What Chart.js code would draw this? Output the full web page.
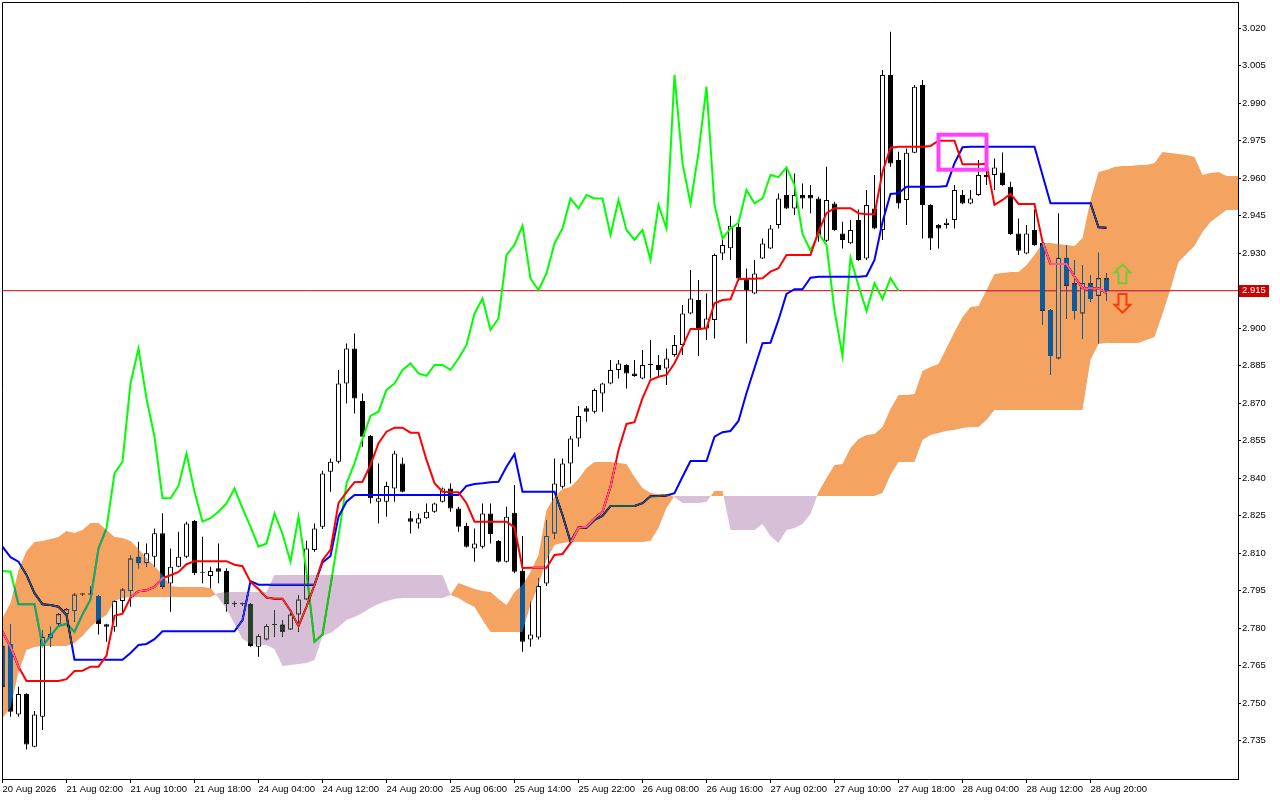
<!DOCTYPE html>
<html>
<head>
<meta charset="utf-8">
<title>Ichimoku H1</title>
<script src="https://cdn.jsdelivr.net/npm/chart.js@4.4.1/dist/chart.umd.min.js"></script>
<style>
  body { margin: 0; background: #ffffff; }
  canvas { display: block; }
</style>
</head>
<body>
<canvas id="grafico" width="1280" height="800"></canvas>
<script>
// velas H1, barra 0 = primera vela visible
const aperturas = [
  2.7730,2.7737,2.7455,2.7537,2.7326,2.7446,2.7760,2.7816,2.7856,2.7869,
  2.7935,2.7935,2.7929,2.7816,2.7806,2.7909,2.7949,2.8086,2.8060,2.8086,
  2.8180,2.7979,2.8046,2.8086,2.8229,2.8022,2.8009,2.8040,2.8029,2.7896,
  2.7896,2.7896,2.7726,2.7755,2.7813,2.7815,2.7795,2.7855,2.7915,2.8113,
  2.8206,2.8426,2.8466,2.8779,2.8919,2.8709,2.8569,2.8306,2.8306,2.8359,
  2.8459,2.8240,2.8219,2.8240,2.8266,2.8306,2.8359,2.8279,2.8209,2.8119,
  2.8126,2.8259,2.8149,2.8066,2.8262,2.8030,2.7755,2.7763,2.7979,2.8179,
  2.8366,2.8459,2.8559,2.8680,2.8666,2.8739,2.8779,2.8833,2.8853,2.8819,
  2.8799,2.8853,2.8853,2.8839,2.8893,2.8933,2.9059,2.9113,2.8999,2.9033,
  2.9299,2.9320,2.9405,2.9196,2.9139,2.9279,2.9319,2.9413,2.9533,2.9479,
  2.9533,2.9533,2.9519,2.9350,2.9499,2.9379,2.9340,2.9433,2.9279,2.9479,
  2.9393,3.0013,2.9673,2.9513,2.9702,2.9973,2.9493,2.9413,2.9413,2.9433,
  2.9533,2.9499,2.9533,2.9613,2.9613,2.9623,2.9566,2.9379,2.9299,2.9393,
  2.9342,2.9073,2.8879,2.9282,2.9180,2.9059,2.9180,2.9130,2.9200
];
const maximos = [
  2.7753,2.7817,2.7566,2.7540,2.7469,2.7793,2.7806,2.7860,2.7880,2.7939,
  2.7940,2.7969,2.7933,2.7818,2.7913,2.7959,2.8093,2.8146,2.8139,2.8199,
  2.8260,2.8119,2.8186,2.8226,2.8233,2.8166,2.8046,2.8139,2.8040,2.7909,
  2.7902,2.7900,2.7775,2.7817,2.7873,2.7833,2.7875,2.7933,2.8150,2.8219,
  2.8430,2.8479,2.8833,2.8939,2.8979,2.8739,2.8573,2.8459,2.8386,2.8510,
  2.8482,2.8269,2.8259,2.8299,2.8302,2.8363,2.8379,2.8286,2.8222,2.8199,
  2.8299,2.8299,2.8153,2.8286,2.8373,2.8169,2.7906,2.7999,2.8233,2.8479,
  2.8479,2.8569,2.8689,2.8689,2.8759,2.8782,2.8873,2.8873,2.8856,2.8873,
  2.8913,2.8953,2.8893,2.8919,2.8973,2.9093,2.9233,2.9193,2.9139,2.9299,
  2.9360,2.9450,2.9433,2.9239,2.9273,2.9359,2.9413,2.9539,2.9646,2.9619,
  2.9579,2.9573,2.9526,2.9646,2.9506,2.9426,2.9433,2.9475,2.9553,2.9613,
  3.0033,3.0186,2.9706,2.9719,2.9973,2.9993,2.9496,2.9417,2.9439,2.9573,
  2.9553,2.9553,2.9673,2.9639,2.9679,2.9703,2.9586,2.9439,2.9413,2.9475,
  2.9346,2.9076,2.9460,2.9333,2.9273,2.9253,2.9213,2.9302,2.9220
];
const minimos = [
  2.7539,2.7446,2.7446,2.7315,2.7324,2.7393,2.7726,2.7813,2.7853,2.7826,
  2.7930,2.7932,2.7775,2.7746,2.7786,2.7859,2.7886,2.8040,2.8046,2.8046,
  2.7959,2.7866,2.8044,2.8080,2.8013,2.7980,2.7960,2.7980,2.7866,2.7886,
  2.7890,2.7726,2.7686,2.7752,2.7766,2.7766,2.7793,2.7786,2.7913,2.8106,
  2.8197,2.8346,2.8459,2.8699,2.8659,2.8526,2.8299,2.8219,2.8246,2.8306,
  2.8344,2.8179,2.8199,2.8238,2.8262,2.8303,2.8266,2.8186,2.8123,2.8066,
  2.8119,2.8139,2.8063,2.8063,2.8020,2.7706,2.7726,2.7755,2.7969,2.8159,
  2.8359,2.8379,2.8526,2.8626,2.8659,2.8666,2.8776,2.8799,2.8759,2.8806,
  2.8796,2.8799,2.8806,2.8773,2.8886,2.8893,2.9056,2.8889,2.8953,2.8959,
  2.9273,2.9273,2.9190,2.8939,2.9136,2.9277,2.9317,2.9399,2.9477,2.9453,
  2.9479,2.9460,2.9346,2.9346,2.9390,2.9319,2.9337,2.9270,2.9273,2.9396,
  2.9353,2.9646,2.9479,2.9413,2.9700,2.9359,2.9313,2.9319,2.9399,2.9399,
  2.9496,2.9496,2.9530,2.9573,2.9553,2.9570,2.9373,2.9293,2.9296,2.9330,
  2.9013,2.8813,2.8876,2.9039,2.9036,2.8957,2.9106,2.8940,2.9109
];
const cierres = [
  2.7566,2.7466,2.7537,2.7335,2.7455,2.7766,2.7776,2.7856,2.7876,2.7935,
  2.7935,2.7935,2.7816,2.7806,2.7909,2.7955,2.8079,2.8060,2.8100,2.8180,
  2.7966,2.8046,2.8086,2.8219,2.8020,2.8022,2.8029,2.8026,2.7896,2.7896,
  2.7896,2.7729,2.7769,2.7809,2.7817,2.7786,2.7855,2.7915,2.8119,2.8199,
  2.8419,2.8466,2.8779,2.8919,2.8719,2.8566,2.8320,2.8320,2.8369,2.8499,
  2.8346,2.8226,2.8240,2.8266,2.8299,2.8359,2.8279,2.8206,2.8126,2.8139,
  2.8259,2.8177,2.8066,2.8246,2.8026,2.7746,2.7775,2.7969,2.8169,2.8379,
  2.8459,2.8559,2.8649,2.8666,2.8753,2.8779,2.8833,2.8859,2.8819,2.8809,
  2.8853,2.8853,2.8833,2.8879,2.8933,2.9059,2.9119,2.8993,2.9039,2.9293,
  2.9333,2.9410,2.9199,2.9153,2.9219,2.9339,2.9399,2.9519,2.9479,2.9533,
  2.9519,2.9519,2.9373,2.9513,2.9393,2.9353,2.9393,2.9273,2.9493,2.9399,
  3.0013,2.9659,2.9499,2.9702,2.9966,2.9493,2.9359,2.9399,2.9422,2.9553,
  2.9499,2.9519,2.9613,2.9604,2.9643,2.9573,2.9377,2.9310,2.9379,2.9333,
  2.9070,2.8889,2.9282,2.9170,2.9069,2.9180,2.9117,2.9200,2.9150
];

// lineas del Ichimoku
const tenkan = [
  2.7786,2.7726,2.7646,2.7589,2.7589,2.7589,2.7589,2.7589,2.7596,2.7629,
  2.7630,2.7646,2.7646,2.7690,2.7850,2.7858,2.7922,2.7948,2.7952,2.7965,
  2.8000,2.8012,2.8025,2.8056,2.8068,2.8068,2.8068,2.8068,2.8068,2.8054,
  2.8048,2.7985,2.7957,2.7923,2.7918,2.7918,2.7870,2.7808,2.7886,2.7973,
  2.8072,2.8113,2.8300,2.8344,2.8384,2.8386,2.8453,2.8540,2.8586,2.8602,
  2.8602,2.8582,2.8582,2.8473,2.8380,2.8346,2.8344,2.8344,2.8300,2.8226,
  2.8226,2.8226,2.8226,2.8226,2.8203,2.8041,2.8042,2.8042,2.8042,2.8093,
  2.8097,2.8140,2.8202,2.8206,2.8240,2.8266,2.8366,2.8513,2.8617,2.8624,
  2.8720,2.8793,2.8806,2.8813,2.8860,2.8926,2.8997,2.8997,2.9000,2.9100,
  2.9113,2.9116,2.9196,2.9198,2.9198,2.9200,2.9226,2.9240,2.9293,2.9293,
  2.9293,2.9293,2.9386,2.9460,2.9480,2.9480,2.9480,2.9460,2.9456,2.9456,
  2.9625,2.9722,2.9726,2.9726,2.9726,2.9726,2.9729,2.9750,2.9750,2.9750,
  2.9656,2.9656,2.9656,2.9658,2.9493,2.9513,2.9537,2.9497,2.9497,2.9497,
  2.9346,2.9257,2.9257,2.9257,2.9206,2.9160,2.9160,2.9160,2.9140
];
const kijun = [
  2.8126,2.8084,2.8066,2.8013,2.7940,2.7896,2.7893,2.7886,2.7853,2.7674,
  2.7674,2.7674,2.7674,2.7674,2.7674,2.7674,2.7701,2.7733,2.7737,2.7756,
  2.7788,2.7788,2.7788,2.7788,2.7788,2.7788,2.7788,2.7788,2.7788,2.7788,
  2.7832,2.7988,2.7974,2.7974,2.7974,2.7974,2.7974,2.7974,2.7974,2.7974,
  2.8063,2.8089,2.8246,2.8306,2.8333,2.8333,2.8333,2.8333,2.8333,2.8333,
  2.8333,2.8333,2.8333,2.8333,2.8333,2.8333,2.8333,2.8333,2.8369,2.8377,
  2.8380,2.8384,2.8386,2.8446,2.8496,2.8346,2.8346,2.8346,2.8346,2.8346,
  2.8253,2.8146,2.8202,2.8202,2.8233,2.8249,2.8289,2.8289,2.8289,2.8289,
  2.8300,2.8328,2.8329,2.8331,2.8340,2.8406,2.8469,2.8469,2.8469,2.8566,
  2.8584,2.8589,2.8629,2.8741,2.8841,2.8940,2.8942,2.9033,2.9137,2.9156,
  2.9156,2.9202,2.9206,2.9206,2.9206,2.9206,2.9206,2.9206,2.9209,2.9273,
  2.9425,2.9537,2.9540,2.9566,2.9566,2.9566,2.9566,2.9566,2.9569,2.9660,
  2.9724,2.9726,2.9726,2.9726,2.9726,2.9726,2.9726,2.9726,2.9726,2.9726,
  2.9613,2.9500,2.9500,2.9500,2.9500,2.9500,2.9500,2.9404,2.9402
];
// chikou: barras 0..112
const chikou = [
  2.8029,2.8026,2.7896,2.7896,2.7896,2.7729,2.7769,2.7809,2.7817,2.7786,
  2.7855,2.7915,2.8119,2.8199,2.8419,2.8466,2.8779,2.8919,2.8719,2.8566,
  2.8320,2.8320,2.8369,2.8499,2.8346,2.8226,2.8240,2.8266,2.8299,2.8359,
  2.8279,2.8206,2.8126,2.8139,2.8259,2.8177,2.8066,2.8246,2.8026,2.7746,
  2.7775,2.7969,2.8169,2.8379,2.8459,2.8559,2.8649,2.8666,2.8753,2.8779,
  2.8833,2.8859,2.8819,2.8809,2.8853,2.8853,2.8833,2.8879,2.8933,2.9059,
  2.9119,2.8993,2.9039,2.9293,2.9333,2.9410,2.9199,2.9153,2.9219,2.9339,
  2.9399,2.9519,2.9479,2.9533,2.9519,2.9519,2.9373,2.9513,2.9393,2.9353,
  2.9393,2.9273,2.9493,2.9399,3.0013,2.9659,2.9499,2.9702,2.9966,2.9493,
  2.9359,2.9399,2.9422,2.9553,2.9499,2.9519,2.9613,2.9604,2.9643,2.9573,
  2.9377,2.9310,2.9379,2.9333,2.9070,2.8889,2.9282,2.9170,2.9069,2.9180,
  2.9117,2.9200,2.9150
];
// nube: barras 0..155 (ya desplazada 26 barras)
const senkouA = [
  2.7841,2.7901,2.8033,2.8109,2.8145,2.8149,2.8157,2.8165,2.8189,2.8181,
  2.8193,2.8221,2.8221,2.8193,2.8165,2.8161,2.8149,2.8117,2.8081,2.8049,
  2.8013,2.7969,2.7965,2.7965,2.7965,2.7965,2.7961,2.7921,2.7877,2.7817,
  2.7757,2.7737,2.7733,2.7733,2.7717,2.7649,2.7653,2.7657,2.7661,2.7673,
  2.7769,2.7781,2.7805,2.7833,2.7845,2.7861,2.7881,2.7897,2.7909,2.7917,
  2.7921,2.7921,2.7921,2.7921,2.7921,2.7921,2.7933,2.7981,2.7969,2.7957,
  2.7949,2.7945,2.7917,2.7893,2.7945,2.7973,2.8025,2.8093,2.8273,2.8325,
  2.8357,2.8365,2.8397,2.8441,2.8465,2.8465,2.8465,2.8461,2.8457,2.8405,
  2.8361,2.8341,2.8337,2.8337,2.8325,2.8301,2.8301,2.8301,2.8305,2.8349,
  2.8349,2.8193,2.8193,2.8193,2.8193,2.8217,2.8169,2.8141,2.8193,2.8201,
  2.8217,2.8257,2.8345,2.8401,2.8453,2.8457,2.8521,2.8557,2.8573,2.8577,
  2.8605,2.8677,2.8733,2.8733,2.8737,2.8829,2.8845,2.8857,2.8921,2.8985,
  2.9045,2.9085,2.9089,2.9153,2.9217,2.9221,2.9225,2.9225,2.9253,2.9293,
  2.9341,2.9341,2.9337,2.9333,2.9329,2.9361,2.9513,2.9625,2.9633,2.9645,
  2.9649,2.9649,2.9653,2.9653,2.9661,2.9705,2.9701,2.9697,2.9693,2.9685,
  2.9613,2.9621,2.9625,2.9609,2.9609,2.9609
];
const senkouB = [
  2.7441,2.7481,2.7625,2.7713,2.7725,2.7729,2.7729,2.7729,2.7729,2.7741,
  2.7769,2.7805,2.7833,2.7853,2.7909,2.7921,2.7925,2.7925,2.7925,2.7925,
  2.7925,2.7925,2.7925,2.7925,2.7925,2.7925,2.7925,2.7941,2.7945,2.7945,
  2.7945,2.7945,2.7945,2.7945,2.8013,2.8013,2.8013,2.8013,2.8013,2.8013,
  2.8013,2.8013,2.8013,2.8013,2.8013,2.8013,2.8013,2.8013,2.8013,2.8013,
  2.8013,2.8013,2.8013,2.8013,2.8013,2.8013,2.7933,2.7921,2.7901,2.7885,
  2.7833,2.7785,2.7785,2.7785,2.7785,2.7785,2.7893,2.7973,2.8073,2.8133,
  2.8141,2.8145,2.8145,2.8145,2.8145,2.8145,2.8145,2.8145,2.8145,2.8145,
  2.8145,2.8149,2.8201,2.8281,2.8329,2.8329,2.8329,2.8329,2.8329,2.8329,
  2.8329,2.8329,2.8329,2.8329,2.8329,2.8329,2.8329,2.8329,2.8329,2.8329,
  2.8329,2.8329,2.8329,2.8329,2.8329,2.8329,2.8329,2.8329,2.8329,2.8329,
  2.8341,2.8413,2.8465,2.8465,2.8465,2.8553,2.8573,2.8581,2.8589,2.8593,
  2.8601,2.8605,2.8605,2.8633,2.8673,2.8673,2.8673,2.8673,2.8673,2.8673,
  2.8673,2.8673,2.8673,2.8673,2.8673,2.8673,2.8873,2.8937,2.8941,2.8941,
  2.8941,2.8941,2.8941,2.8953,2.8965,2.9057,2.9157,2.9265,2.9297,2.9329,
  2.9385,2.9425,2.9449,2.9473,2.9473,2.9473
];

// ejes
const barrasEtiqueta = [0, 8, 16, 24, 32, 40, 48, 56, 64, 72, 80, 88, 96, 104, 112, 120, 128, 136];
const etiquetasTiempo = [
  "20 Aug 2026", "21 Aug 02:00", "21 Aug 10:00", "21 Aug 18:00", "24 Aug 04:00", "24 Aug 12:00",
  "24 Aug 20:00", "25 Aug 06:00", "25 Aug 14:00", "25 Aug 22:00", "26 Aug 08:00", "26 Aug 16:00",
  "27 Aug 02:00", "27 Aug 10:00", "27 Aug 18:00", "28 Aug 04:00", "28 Aug 12:00", "28 Aug 20:00"
];
const preciosEje = [2.735, 2.750, 2.765, 2.780, 2.795, 2.810, 2.825, 2.840, 2.855, 2.870,
  2.885, 2.900, 2.915, 2.930, 2.945, 2.960, 2.975, 2.990, 3.005, 3.020];
const precioActual = 2.915;

// objetos dibujados a mano en el terminal: [barra desde, barra hasta, precio bajo, precio alto]
const zonaMarcada = [117, 123, 2.9634, 2.9774];
// flechas de senal: [barra, precio base, precio punta]
const flechaArriba = [140, 2.9180, 2.9255];
const flechaAbajo = [140, 2.9137, 2.9062];

const ctx = document.getElementById("grafico").getContext("2d");
const fuente = { family: "'Liberation Sans', Arial, sans-serif", size: 9.5 };

const mechas = cierres.map((c, i) => ({ x: i, y: [minimos[i], maximos[i]] }));
const cuerpos = cierres.map((c, i) => ({ x: i, y: [aperturas[i], c] }));
const coloresCuerpo = cierres.map((c, i) => (c > aperturas[i] ? "#ffffff" : "#000000"));
const aPuntos = arr => arr.map((v, i) => ({ x: i, y: v }));

// fondo blanco opaco: sin esto la mezcla "difference" de la nube no tiene nada debajo
const fondo = {
  id: "fondo",
  beforeDraw(chart) {
    const c = chart.ctx;
    c.save();
    c.globalCompositeOperation = "source-over";
    c.fillStyle = "#ffffff";
    c.fillRect(0, 0, chart.width, chart.height);
    c.restore();
  }
};

// la nube se pinta con mezcla "difference", asi lo que queda debajo cambia de color
// como en el terminal (negro -> azul, rojo -> rosa, azul -> verde oscuro)
const mezclaNube = {
  id: "mezclaNube",
  afterDatasetDraw(chart, args) {
    const nombre = chart.data.datasets[args.index].label;
    if (nombre === "Senkou Span B") chart.ctx.globalCompositeOperation = "difference";
    if (nombre === "Senkou Span A") chart.ctx.globalCompositeOperation = "source-over";
  }
};

function dibujarFlecha(c, cx, yBase, yPunta, color) {
  const dir = yPunta < yBase ? 1 : -1;
  const cabeza = 8 * dir;
  c.beginPath();
  c.moveTo(cx, yPunta);
  c.lineTo(cx + 8, yPunta + cabeza);
  c.lineTo(cx + 4, yPunta + cabeza);
  c.lineTo(cx + 4, yBase);
  c.lineTo(cx - 4, yBase);
  c.lineTo(cx - 4, yPunta + cabeza);
  c.lineTo(cx - 8, yPunta + cabeza);
  c.closePath();
  c.strokeStyle = color;
  c.lineWidth = 2;
  c.stroke();
}

const extras = {
  id: "extras",
  afterDatasetsDraw(chart) {
    const { ctx: c, chartArea: a, scales: { x, y } } = chart;
    c.save();
    c.globalCompositeOperation = "source-over";
    c.beginPath();
    c.rect(a.left, a.top, a.right - a.left, a.bottom - a.top);
    c.clip();
    const x1 = x.getPixelForValue(zonaMarcada[0]);
    const x2 = x.getPixelForValue(zonaMarcada[1]);
    const y1 = y.getPixelForValue(zonaMarcada[3]);
    const y2 = y.getPixelForValue(zonaMarcada[2]);
    c.strokeStyle = "#ff40ff";
    c.lineWidth = 4;
    c.strokeRect(x1, y1, x2 - x1, y2 - y1);
    dibujarFlecha(c, x.getPixelForValue(flechaArriba[0]), y.getPixelForValue(flechaArriba[1]),
      y.getPixelForValue(flechaArriba[2]), "#74c83a");
    dibujarFlecha(c, x.getPixelForValue(flechaAbajo[0]), y.getPixelForValue(flechaAbajo[1]),
      y.getPixelForValue(flechaAbajo[2]), "#ff3a10");
    c.restore();
  },
  afterDraw(chart) {
    const { ctx: c, chartArea: a, scales: { y } } = chart;
    c.save();
    c.globalCompositeOperation = "source-over";
    c.strokeStyle = "#000000";
    c.lineWidth = 1;
    c.beginPath();
    c.moveTo(a.left + 0.5, a.bottom);
    c.lineTo(a.left + 0.5, a.top + 0.5);
    c.lineTo(a.right, a.top + 0.5);
    c.stroke();
    // etiqueta del precio actual
    const yp = y.getPixelForValue(precioActual);
    c.fillStyle = "#cc0000";
    c.fillRect(a.right + 1, Math.round(yp) - 6, 30, 12);
    c.fillStyle = "#ffffff";
    c.font = "9.5px 'Liberation Sans', Arial, sans-serif";
    c.textBaseline = "middle";
    c.fillText(precioActual.toFixed(3), a.right + 4, yp);
    c.restore();
  }
};

const lineaBase = { type: "line", pointRadius: 0, borderWidth: 2, tension: 0, fill: false, clip: 0 };

new Chart(ctx, {
  type: "bar",
  data: {
    datasets: [
      { ...lineaBase, label: "Precio", data: [{ x: -5, y: precioActual }, { x: 170, y: precioActual }],
        borderColor: "#cc0000", borderWidth: 1, order: 10 },
      { type: "bar", label: "Mechas", data: mechas, backgroundColor: "#000000", borderWidth: 0,
        barThickness: 1, grouped: false, inflateAmount: 0, order: 9, clip: 0 },
      { type: "bar", label: "Cuerpos", data: cuerpos, backgroundColor: coloresCuerpo, borderColor: "#000000",
        borderWidth: 1, borderSkipped: false, barThickness: 5, minBarLength: 1, grouped: false,
        inflateAmount: 0, order: 8, clip: 0 },
      { ...lineaBase, label: "Chikou Span", data: aPuntos(chikou), borderColor: "#00ff00", order: 7 },
      { ...lineaBase, label: "Kijun-sen", data: aPuntos(kijun), borderColor: "#0000ff", order: 6 },
      { ...lineaBase, label: "Tenkan-sen", data: aPuntos(tenkan), borderColor: "#ff0000", order: 5 },
      { ...lineaBase, label: "Senkou Span A", data: aPuntos(senkouA), borderColor: "rgba(0,0,0,0)", borderWidth: 0,
        fill: { target: "+1", above: "rgb(11,91,159)", below: "rgb(39,64,39)" }, order: 1 },
      { ...lineaBase, label: "Senkou Span B", data: aPuntos(senkouB), borderColor: "rgba(0,0,0,0)", borderWidth: 0,
        order: 2 }
    ]
  },
  options: {
    responsive: false,
    animation: false,
    devicePixelRatio: 1,
    events: [],
    layout: { padding: { top: 2, left: 2, right: 0, bottom: 0 } },
    plugins: {
      legend: { display: false },
      tooltip: { enabled: false },
      filler: { drawTime: "beforeDatasetDraw" }
    },
    scales: {
      x: {
        type: "linear",
        min: -0.0625,
        max: 154.4375,
        offset: false,
        afterBuildTicks: s => { s.ticks = barrasEtiqueta.map(v => ({ value: v })); },
        afterFit: s => { s.height = 21; s.paddingLeft = 0; s.paddingRight = 0; },
        ticks: {
          callback: (v, i) => etiquetasTiempo[i],
          align: "start",
          maxRotation: 0,
          autoSkip: false,
          padding: 1,
          color: "#000000",
          font: fuente
        },
        grid: { drawOnChartArea: false, offset: false, tickLength: 4, color: "#000000" },
        border: { color: "#000000" }
      },
      y: {
        position: "right",
        min: 2.71968,
        max: 3.03048,
        afterBuildTicks: s => { s.ticks = preciosEje.map(v => ({ value: v })); },
        afterFit: s => { s.width = 42; s.paddingTop = 0; s.paddingBottom = 0; },
        ticks: {
          callback: v => Number(v).toFixed(3),
          autoSkip: false,
          padding: 1,
          color: "#000000",
          font: fuente
        },
        grid: { drawOnChartArea: false, tickLength: 3, color: "#000000" },
        border: { color: "#000000" }
      }
    }
  },
  plugins: [fondo, mezclaNube, extras]
});
</script>
</body>
</html>
